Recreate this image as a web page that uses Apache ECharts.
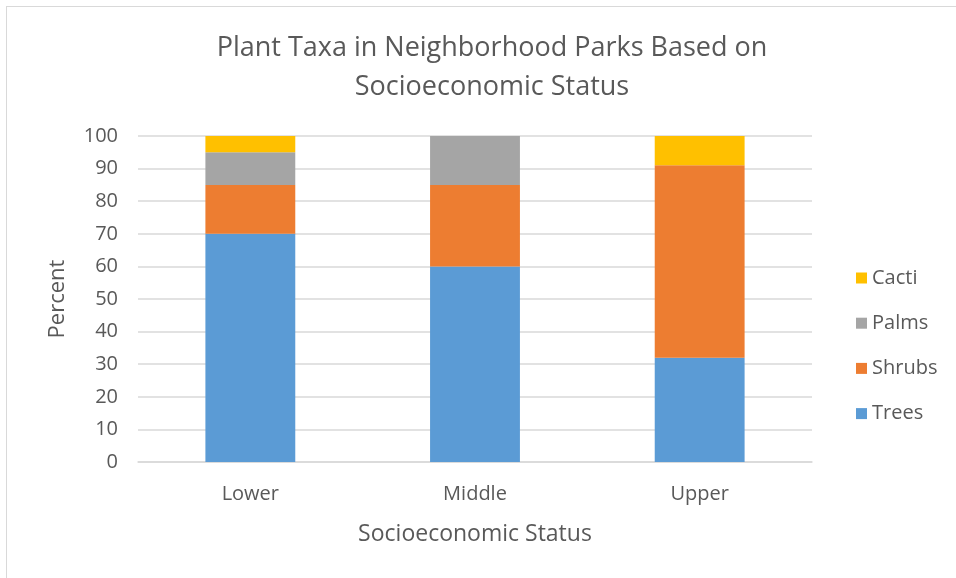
<!DOCTYPE html>
<html><head><meta charset="utf-8">
<script src="https://cdn.jsdelivr.net/npm/echarts@6/dist/echarts.min.js"></script>
<style>
html,body{margin:0;padding:0;background:#fff;}
#wrap{position:relative;width:956px;height:578px;overflow:hidden;}
#frame{position:absolute;left:6px;top:6px;width:1000px;height:1000px;border:1px solid #d9d9d9;box-sizing:border-box;}
#chart{position:absolute;left:0;top:0;width:956px;height:578px;}
</style></head>
<body><div id="wrap"><div id="frame"></div><div id="chart"></div></div>
<script>
const categories = ['Lower', 'Middle', 'Upper'];
const trees = [70, 60, 32];
const shrubs = [15, 25, 59];
const palms = [10, 15, 0];
const cacti = [5, 0, 9];
const yTicks = [0, 10, 20, 30, 40, 50, 60, 70, 80, 90, 100];

const FONT = 'Open Sans';
const TXT = '#595959';
const chart = echarts.init(document.getElementById('chart'), null, {renderer: 'canvas'});
function bar(name, data, color) {
  return {name, type: 'bar', stack: 's', data, barWidth: '40%',
    itemStyle: {color}, emphasis: {disabled: true}};
}
chart.setOption({
  animation: false,
  backgroundColor: 'transparent',
  title: {
    text: 'Plant Taxa in Neighborhood Parks Based on\nSocioeconomic Status',
    left: 487, top: 24, textAlign: 'center',
    textStyle: {fontFamily: FONT, fontSize: 27, fontWeight: 'normal', color: TXT, lineHeight: 39}
  },
  legend: {
    orient: 'vertical', left: 851, top: 263, itemGap: 25.2,
    itemWidth: 11, itemHeight: 11, icon: 'rect',
    data: ['Cacti', 'Palms', 'Shrubs', 'Trees'],
    textStyle: {fontFamily: FONT, fontSize: 20, color: TXT, padding: [0, 0, 0, 0]}
  },
  grid: {left: 138, right: 144, top: 136, bottom: 116, containLabel: false},
  xAxis: {
    type: 'category', data: categories,
    name: 'Socioeconomic Status', nameLocation: 'middle', nameGap: 61,
    nameTextStyle: {fontFamily: FONT, fontSize: 23, color: TXT},
    axisLine: {lineStyle: {color: '#d9d9d9', width: 1.5}},
    axisTick: {show: false},
    axisLabel: {fontFamily: FONT, fontSize: 20, color: TXT, margin: 22}
  },
  yAxis: {
    type: 'value', min: 0, max: 100, interval: 10,
    name: 'Percent', nameLocation: 'middle', nameGap: 69, nameRotate: 90,
    nameTextStyle: {fontFamily: FONT, fontSize: 22, color: TXT},
    axisLine: {show: false}, axisTick: {show: false},
    axisLabel: {fontFamily: FONT, fontSize: 20, color: TXT, margin: 20,
      formatter: v => yTicks.includes(v) ? String(v) : ''},
    splitLine: {lineStyle: {color: '#d9d9d9', width: 1.5}}
  },
  series: [
    bar('Trees', trees, '#5B9BD5'),
    bar('Shrubs', shrubs, '#ED7D31'),
    bar('Palms', palms, '#A5A5A5'),
    bar('Cacti', cacti, '#FFC000')
  ]
});
</script></body></html>
